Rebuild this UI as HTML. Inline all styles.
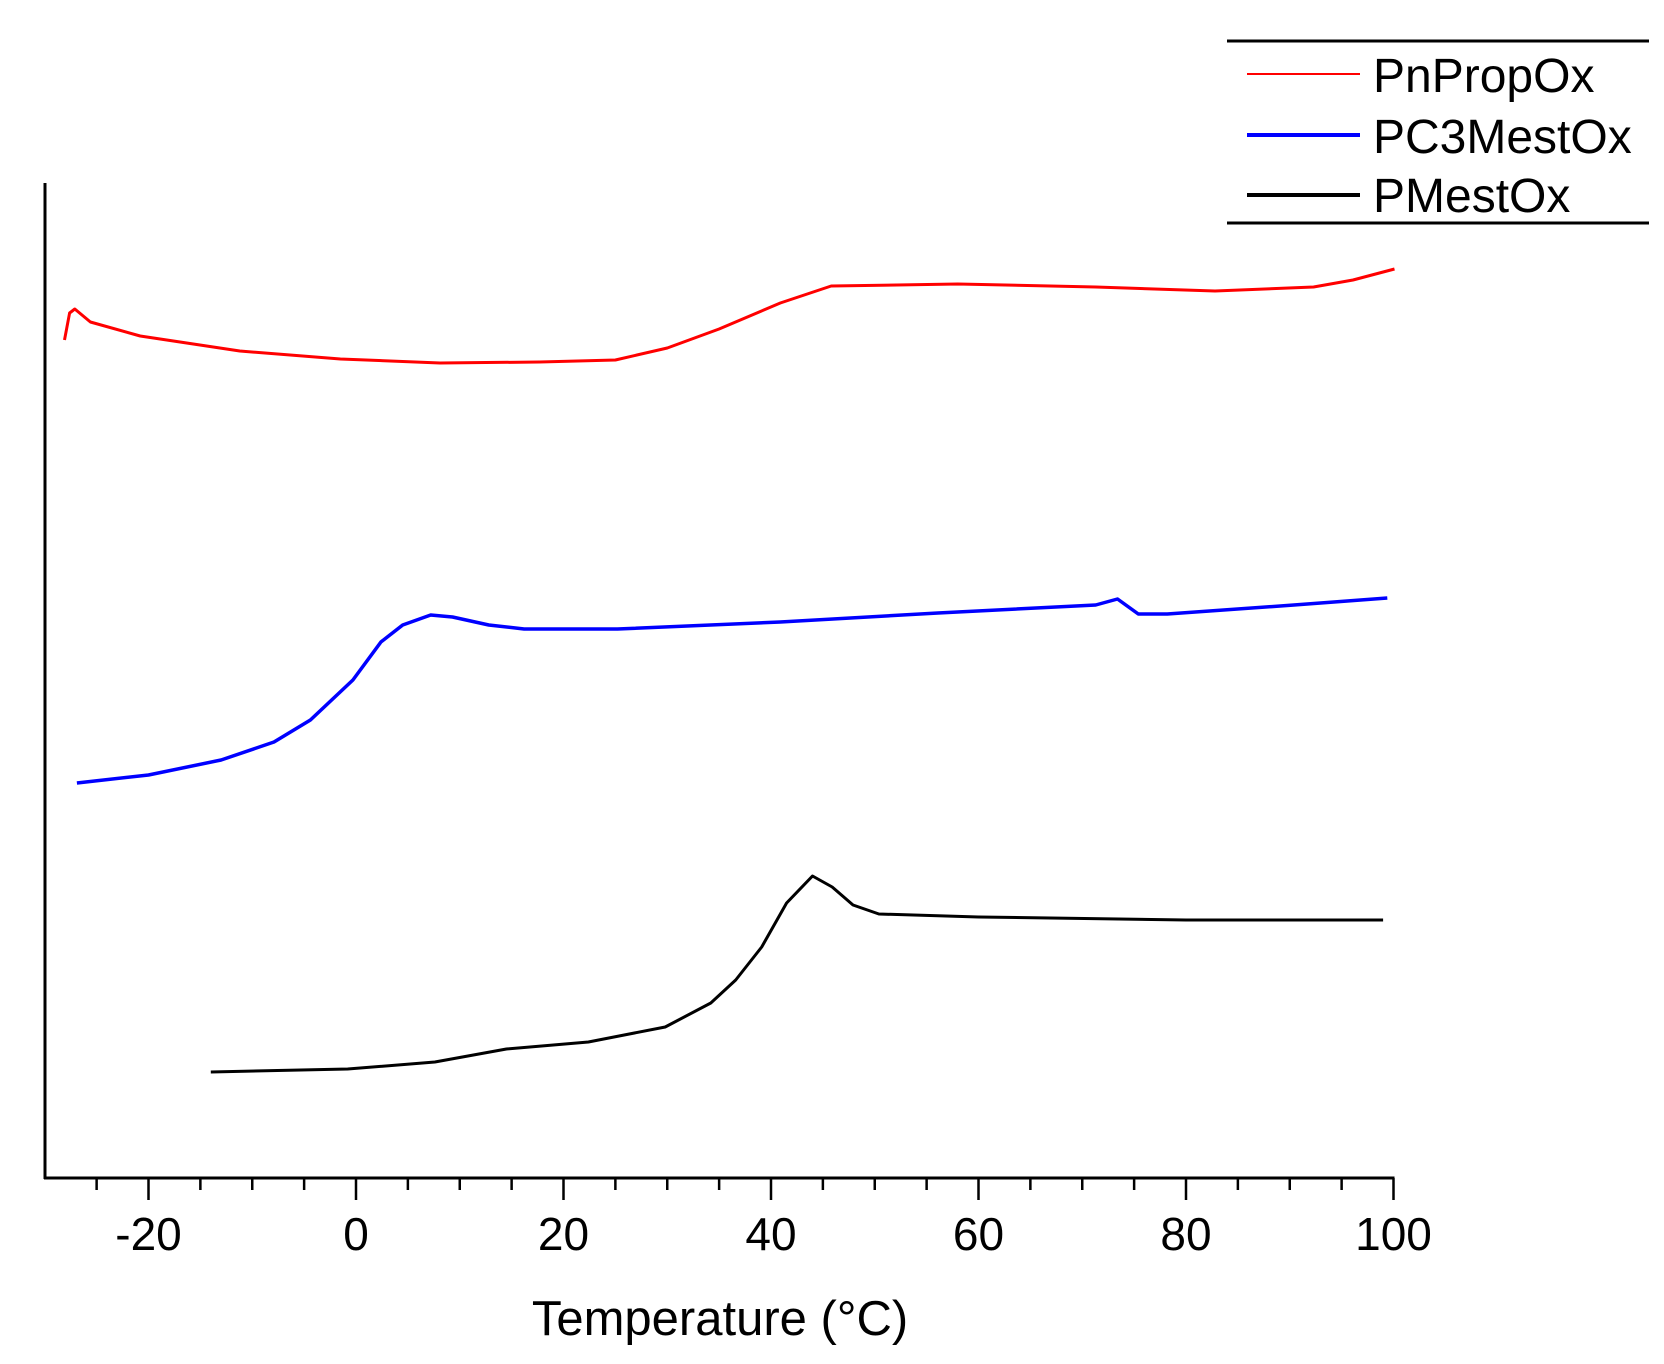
<!DOCTYPE html>
<html><head><meta charset="utf-8"><style>
html,body{margin:0;padding:0;background:#fff;}
svg{display:block;font-family:"Liberation Sans",Arial,sans-serif;}
</style></head><body>
<svg id="chart" width="1664" height="1364" viewBox="0 0 1664 1364">
<g id="axes"></g>
<g id="series"></g>
<g>
  <line x1="1227" y1="41" x2="1649" y2="41" stroke="#000" stroke-width="3"/>
  <line x1="1227" y1="223" x2="1649" y2="223" stroke="#000" stroke-width="3"/>
  <line x1="1247" y1="74" x2="1360" y2="74" stroke="#ff0000" stroke-width="2"/>
  <line x1="1247" y1="135" x2="1360" y2="135" stroke="#0000ff" stroke-width="4"/>
  <line x1="1247" y1="195" x2="1360" y2="195" stroke="#000" stroke-width="4"/>
  <text x="1373" y="92" font-size="48">PnPropOx</text>
  <text x="1373" y="153" font-size="48">PC3MestOx</text>
  <text x="1373" y="212" font-size="48">PMestOx</text>
</g>
<text x="720" y="1335" font-size="49" text-anchor="middle">Temperature (°C)</text>
</svg>
<script>
const xTicks = [-20, 0, 20, 40, 60, 80, 100];
const xTickLabels = ["-20", "0", "20", "40", "60", "80", "100"];
const minorTicks = [-25,-15,-10,-5,5,10,15,25,30,35,45,50,55,65,70,75,85,90,95];
const redT = [-28.1,-27.6,-27.1,-25.6,-20.8,-11.2,-1.5,8.1,17.7,25,30,35,40.9,45.8,58,71.3,82.8,92.3,96.1,100.1];
const redV = [83.8,86.5,86.9,85.6,84.2,82.7,81.9,81.5,81.6,81.8,83.0,84.9,87.5,89.2,89.4,89.1,88.7,89.1,89.8,90.9];
const blueT = [-26.9,-20,-13,-7.9,-4.4,-0.3,2.4,4.5,7.2,9.3,12.8,16.2,25.2,40.9,56.1,71.3,73.4,75.4,78.2,90.4,99.4];
const blueV = [39.5,40.3,41.8,43.6,45.8,49.8,53.6,55.3,56.3,56.1,55.3,54.9,54.9,55.6,56.5,57.3,57.9,56.4,56.4,57.3,58.0];
const blackT = [-14,-0.8,7.6,14.5,22.4,29.8,34.2,36.6,39.1,41.5,44,45.9,47.9,50.4,60,80,99];
const blackV = [10.6,10.9,11.6,12.9,13.6,15.1,17.5,19.8,23.1,27.5,30.2,29.1,27.3,26.4,26.1,25.8,25.8];

const NS = "http://www.w3.org/2000/svg";
function xs(t){ return 356 + t * 10.375; }
function ys(v){ return 1178 - v * 10; }
function mk(tag, attrs, parent){
  const e = document.createElementNS(NS, tag);
  for (const k in attrs) e.setAttribute(k, attrs[k]);
  parent.appendChild(e);
  return e;
}
const axes = document.getElementById('axes');
const yAxis = mk('line', {x1:45, y1:183, x2:45, y2:1179, stroke:'#000', 'stroke-width':3}, axes);


const xAxis = mk('line', {x1:44, y1:1178, x2:xs(100)+1, y2:1178, stroke:'#000', 'stroke-width':3}, axes);


xTicks.forEach((t, i) => {
  const tk = mk('line', {x1:xs(t), y1:1178, x2:xs(t), y2:1200, stroke:'#000', 'stroke-width':2.5}, axes);
  
  
  const lb = mk('text', {x:xs(t), y:1250, 'font-size':46, 'text-anchor':'middle'}, axes);
  lb.textContent = xTickLabels[i];
  
  
});
minorTicks.forEach(t => {
  const tk = mk('line', {x1:xs(t), y1:1178, x2:xs(t), y2:1190, stroke:'#000', 'stroke-width':2.5}, axes);
  
  
});
const series = document.getElementById('series');
function drawLine(T, V, color, w, name){
  const d = T.map((t, i) => (i ? 'L' : 'M') + xs(t).toFixed(1) + ',' + ys(V[i]).toFixed(1)).join(' ');
  const p = mk('path', {d:d, fill:'none', stroke:color, 'stroke-width':w, 'stroke-linejoin':'round'}, series);
  
  
}
drawLine(redT, redV, '#ff0000', 3, 'pnpropox-curve');
drawLine(blueT, blueV, '#0000ff', 3.5, 'pc3mestox-curve');
drawLine(blackT, blackV, '#000000', 3, 'pmestox-curve');
</script>
</body></html>
